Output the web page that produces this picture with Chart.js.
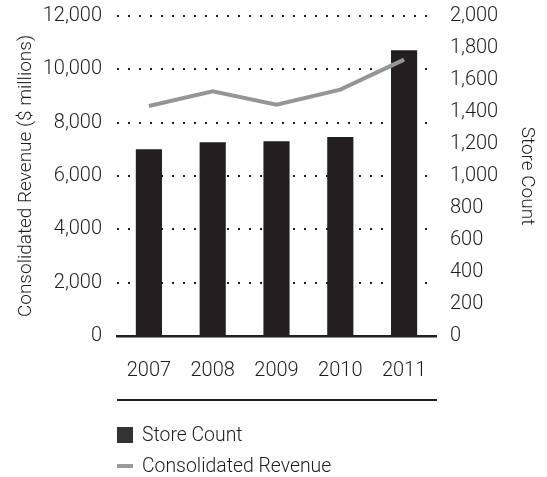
<!DOCTYPE html>
<html>
<head>
<meta charset="utf-8">
<script src="https://cdn.jsdelivr.net/npm/chart.js@4"></script>
<style>
  html, body { margin: 0; padding: 0; background: #fff; }
  #wrap { position: relative; width: 547px; height: 477px; }
  #chart { position: absolute; left: 0; top: 0; }
  .rule { position: absolute; left: 117px; top: 398.5px; width: 320px; height: 2.5px; background: #231f20; }
  .leg { position: absolute; left: 117px; display: flex; align-items: center; gap: 9px;
         font-family: Roboto, "Liberation Sans", sans-serif; font-weight: 300; font-size: 19.4px; color: #1f1c1d; }
  .sw-bar { width: 16px; height: 16px; background: #333; }
  .sw-line { width: 16px; height: 4px; background: #999b9e; }
</style>
</head>
<body>
<div id="wrap">
  <canvas id="chart" width="547" height="477"></canvas>
  <div class="rule"></div>
  <div class="leg" style="top:423px"><span class="sw-bar"></span><span>Store Count</span></div>
  <div class="leg" style="top:454px"><span class="sw-line"></span><span>Consolidated Revenue</span></div>
</div>
<script>
"use strict";

const years = ["2007", "2008", "2009", "2010", "2011"];
const storeCount = [1167, 1211, 1217, 1244, 1786];
const revenue = [8625, 9175, 8670, 9240, 10365];

const revenueTicks = [0, 2000, 4000, 6000, 8000, 10000, 12000];
const storeTicks = [0, 200, 400, 600, 800, 1000, 1200, 1400, 1600, 1800, 2000];

const INK = "#231f20";
const TEXT = "#1f1c1d";
const FONT = { family: "Roboto, 'Liberation Sans', sans-serif", weight: 300, size: 20 };

const fmt = (v) => v.toLocaleString("en-US");

// fixed axis box sizes so the plot area sits where we want it
const fitY = (width) => (s) => {
  s.width = width;
  s.paddingTop = 0;
  s.paddingBottom = 0;
};

new Chart(document.getElementById("chart"), {
  type: "bar",
  data: {
    labels: years,
    datasets: [
      {
        type: "line",
        label: "Consolidated Revenue",
        data: revenue,
        yAxisID: "y",
        borderColor: "#939598",
        borderWidth: 4,
        pointRadius: 0,
        tension: 0,
        order: 0,
      },
      {
        label: "Store Count",
        data: storeCount,
        yAxisID: "y1",
        backgroundColor: INK,
        barPercentage: 0.41,
        categoryPercentage: 1,
        order: 1,
      },
    ],
  },
  options: {
    responsive: false,
    animation: false,
    layout: { padding: { top: 16, left: 0, right: 0, bottom: 0 } },
    plugins: {
      legend: { display: false },
      tooltip: { enabled: false },
    },
    scales: {
      x: {
        grid: { display: false },
        border: { display: true, color: INK, width: 2.5 },
        ticks: { color: TEXT, font: FONT, padding: 15, maxRotation: 0 },
        afterFit: (s) => {
          s.height = 141;
          s.paddingLeft = 0;
          s.paddingRight = 0;
        },
      },
      y: {
        position: "left",
        min: 0,
        max: 12000,
        afterBuildTicks: (s) => { s.ticks = revenueTicks.map((v) => ({ value: v })); },
        grid: {
          drawTicks: false,
          lineWidth: 2,
          color: (c) => (c.tick && c.tick.value === 0 ? "transparent" : INK),
        },
        border: { display: false, dash: [2, 9] },
        ticks: { color: TEXT, font: FONT, padding: 15, callback: (v) => fmt(v) },
        title: {
          display: true,
          text: "Consolidated Revenue ($ millions)",
          color: TEXT,
          font: { ...FONT, size: 19 },
          padding: { top: 15, bottom: 0 },
        },
        afterFit: fitY(117),
      },
      y1: {
        position: "right",
        min: 0,
        max: 2000,
        afterBuildTicks: (s) => { s.ticks = storeTicks.map((v) => ({ value: v })); },
        grid: { display: false, drawTicks: false },
        border: { display: false },
        ticks: { color: TEXT, font: FONT, padding: 14, callback: (v) => fmt(v) },
        title: {
          display: true,
          text: "Store Count",
          color: TEXT,
          font: { ...FONT, size: 19 },
          padding: { top: 9, bottom: 0 },
        },
        afterFit: fitY(111),
      },
    },
  },
});
</script>
</body>
</html>
